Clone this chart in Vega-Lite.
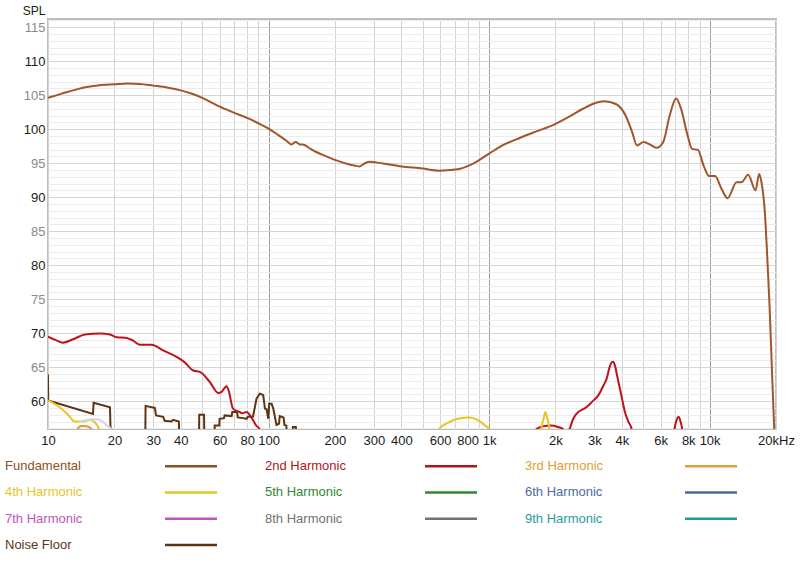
{
  "$schema": "https://vega.github.io/schema/vega-lite/v6.json",
  "padding": {"left": 5, "top": 3, "right": 5, "bottom": 0},
  "spacing": 5,
  "config": {"font": "Liberation Sans"},
  "resolve": {"scale": {"color": "independent"}},
  "datasets": {
    "curves": [
      {"series": "Fundamental", "freq": 10, "spl": 104.6},
      {"series": "Fundamental", "freq": 11, "spl": 105.0},
      {"series": "Fundamental", "freq": 12, "spl": 105.4},
      {"series": "Fundamental", "freq": 13.5, "spl": 105.85},
      {"series": "Fundamental", "freq": 15, "spl": 106.2},
      {"series": "Fundamental", "freq": 17.5, "spl": 106.5},
      {"series": "Fundamental", "freq": 20, "spl": 106.6},
      {"series": "Fundamental", "freq": 23, "spl": 106.7},
      {"series": "Fundamental", "freq": 26, "spl": 106.65},
      {"series": "Fundamental", "freq": 30, "spl": 106.4},
      {"series": "Fundamental", "freq": 35, "spl": 106.1},
      {"series": "Fundamental", "freq": 40, "spl": 105.7},
      {"series": "Fundamental", "freq": 45, "spl": 105.2},
      {"series": "Fundamental", "freq": 50, "spl": 104.6},
      {"series": "Fundamental", "freq": 60, "spl": 103.3},
      {"series": "Fundamental", "freq": 70, "spl": 102.4},
      {"series": "Fundamental", "freq": 82, "spl": 101.5},
      {"series": "Fundamental", "freq": 92, "spl": 100.7},
      {"series": "Fundamental", "freq": 101, "spl": 100.0},
      {"series": "Fundamental", "freq": 110, "spl": 99.2},
      {"series": "Fundamental", "freq": 120.6, "spl": 98.3},
      {"series": "Fundamental", "freq": 127, "spl": 97.75},
      {"series": "Fundamental", "freq": 132.6, "spl": 98.1},
      {"series": "Fundamental", "freq": 139, "spl": 97.75},
      {"series": "Fundamental", "freq": 144.6, "spl": 97.7},
      {"series": "Fundamental", "freq": 155, "spl": 97.1},
      {"series": "Fundamental", "freq": 165.4, "spl": 96.6},
      {"series": "Fundamental", "freq": 183, "spl": 96.0},
      {"series": "Fundamental", "freq": 203, "spl": 95.4},
      {"series": "Fundamental", "freq": 233, "spl": 94.8},
      {"series": "Fundamental", "freq": 250, "spl": 94.6},
      {"series": "Fundamental", "freq": 259, "spl": 94.5},
      {"series": "Fundamental", "freq": 268, "spl": 94.8},
      {"series": "Fundamental", "freq": 278, "spl": 95.1},
      {"series": "Fundamental", "freq": 287, "spl": 95.2},
      {"series": "Fundamental", "freq": 330, "spl": 94.95},
      {"series": "Fundamental", "freq": 393, "spl": 94.55},
      {"series": "Fundamental", "freq": 500, "spl": 94.2},
      {"series": "Fundamental", "freq": 593, "spl": 93.9},
      {"series": "Fundamental", "freq": 706, "spl": 94.05},
      {"series": "Fundamental", "freq": 842, "spl": 94.9},
      {"series": "Fundamental", "freq": 1000, "spl": 96.4},
      {"series": "Fundamental", "freq": 1150, "spl": 97.6},
      {"series": "Fundamental", "freq": 1376, "spl": 98.7},
      {"series": "Fundamental", "freq": 1650, "spl": 99.7},
      {"series": "Fundamental", "freq": 1948, "spl": 100.6},
      {"series": "Fundamental", "freq": 2300, "spl": 101.8},
      {"series": "Fundamental", "freq": 2665, "spl": 103.0},
      {"series": "Fundamental", "freq": 2950, "spl": 103.7},
      {"series": "Fundamental", "freq": 3330, "spl": 104.1},
      {"series": "Fundamental", "freq": 3756, "spl": 103.7},
      {"series": "Fundamental", "freq": 4160, "spl": 102.0},
      {"series": "Fundamental", "freq": 4450, "spl": 99.6},
      {"series": "Fundamental", "freq": 4685, "spl": 97.6},
      {"series": "Fundamental", "freq": 5020, "spl": 98.1},
      {"series": "Fundamental", "freq": 5400, "spl": 97.7},
      {"series": "Fundamental", "freq": 5750, "spl": 97.25},
      {"series": "Fundamental", "freq": 6160, "spl": 98.1},
      {"series": "Fundamental", "freq": 6590, "spl": 102.0},
      {"series": "Fundamental", "freq": 7050, "spl": 104.5},
      {"series": "Fundamental", "freq": 7420, "spl": 103.0},
      {"series": "Fundamental", "freq": 7940, "spl": 99.1},
      {"series": "Fundamental", "freq": 8320, "spl": 97.1},
      {"series": "Fundamental", "freq": 8850, "spl": 96.95},
      {"series": "Fundamental", "freq": 9390, "spl": 94.65},
      {"series": "Fundamental", "freq": 9950, "spl": 93.1},
      {"series": "Fundamental", "freq": 10590, "spl": 93.1},
      {"series": "Fundamental", "freq": 11330, "spl": 91.2},
      {"series": "Fundamental", "freq": 12070, "spl": 89.85},
      {"series": "Fundamental", "freq": 13250, "spl": 92.2},
      {"series": "Fundamental", "freq": 13950, "spl": 92.2},
      {"series": "Fundamental", "freq": 14950, "spl": 93.3},
      {"series": "Fundamental", "freq": 16150, "spl": 91.0},
      {"series": "Fundamental", "freq": 16780, "spl": 93.4},
      {"series": "Fundamental", "freq": 17180, "spl": 92.2},
      {"series": "Fundamental", "freq": 17800, "spl": 87.8},
      {"series": "Fundamental", "freq": 18300, "spl": 80.5},
      {"series": "Fundamental", "freq": 18700, "spl": 74},
      {"series": "Fundamental", "freq": 19200, "spl": 64},
      {"series": "Fundamental", "freq": 19600, "spl": 56.5},
      {"series": "Fundamental", "freq": 20000, "spl": 50},

      {"series": "2nd Harmonic", "freq": 10, "spl": 69.5},
      {"series": "2nd Harmonic", "freq": 10.8, "spl": 69.0},
      {"series": "2nd Harmonic", "freq": 11.7, "spl": 68.6},
      {"series": "2nd Harmonic", "freq": 13, "spl": 69.1},
      {"series": "2nd Harmonic", "freq": 14.7, "spl": 69.8},
      {"series": "2nd Harmonic", "freq": 17.2, "spl": 69.95},
      {"series": "2nd Harmonic", "freq": 19.1, "spl": 69.8},
      {"series": "2nd Harmonic", "freq": 20.5, "spl": 69.4},
      {"series": "2nd Harmonic", "freq": 22.7, "spl": 69.3},
      {"series": "2nd Harmonic", "freq": 24.3, "spl": 68.9},
      {"series": "2nd Harmonic", "freq": 26.1, "spl": 68.3},
      {"series": "2nd Harmonic", "freq": 29.5, "spl": 68.3},
      {"series": "2nd Harmonic", "freq": 33.3, "spl": 67.45},
      {"series": "2nd Harmonic", "freq": 38.3, "spl": 66.5},
      {"series": "2nd Harmonic", "freq": 41.7, "spl": 65.7},
      {"series": "2nd Harmonic", "freq": 45.5, "spl": 64.5},
      {"series": "2nd Harmonic", "freq": 48.8, "spl": 64.3},
      {"series": "2nd Harmonic", "freq": 54.2, "spl": 62.8},
      {"series": "2nd Harmonic", "freq": 59.1, "spl": 61.2},
      {"series": "2nd Harmonic", "freq": 61, "spl": 61.3},
      {"series": "2nd Harmonic", "freq": 64.5, "spl": 62.2},
      {"series": "2nd Harmonic", "freq": 66, "spl": 61.5},
      {"series": "2nd Harmonic", "freq": 69, "spl": 58.9},
      {"series": "2nd Harmonic", "freq": 74, "spl": 58.4},
      {"series": "2nd Harmonic", "freq": 76, "spl": 58.2},
      {"series": "2nd Harmonic", "freq": 79.5, "spl": 58.4},
      {"series": "2nd Harmonic", "freq": 84, "spl": 57.5},
      {"series": "2nd Harmonic", "freq": 88, "spl": 56.4},
      {"series": "2nd Harmonic", "freq": 91, "spl": 55.9},
      {"series": "2nd Harmonic", "freq": 95, "spl": 53},
      {"series": "2nd Harmonic", "freq": 1550, "spl": 53},
      {"series": "2nd Harmonic", "freq": 1640, "spl": 55.9},
      {"series": "2nd Harmonic", "freq": 1770, "spl": 56.3},
      {"series": "2nd Harmonic", "freq": 1900, "spl": 56.4},
      {"series": "2nd Harmonic", "freq": 2050, "spl": 56.2},
      {"series": "2nd Harmonic", "freq": 2161, "spl": 55.9},
      {"series": "2nd Harmonic", "freq": 2230, "spl": 55.2},
      {"series": "2nd Harmonic", "freq": 2318, "spl": 55.9},
      {"series": "2nd Harmonic", "freq": 2400, "spl": 57.3},
      {"series": "2nd Harmonic", "freq": 2485, "spl": 58.1},
      {"series": "2nd Harmonic", "freq": 2762, "spl": 59.1},
      {"series": "2nd Harmonic", "freq": 2950, "spl": 60.0},
      {"series": "2nd Harmonic", "freq": 3123, "spl": 60.8},
      {"series": "2nd Harmonic", "freq": 3300, "spl": 62.3},
      {"series": "2nd Harmonic", "freq": 3413, "spl": 63.3},
      {"series": "2nd Harmonic", "freq": 3520, "spl": 65.0},
      {"series": "2nd Harmonic", "freq": 3594, "spl": 65.7},
      {"series": "2nd Harmonic", "freq": 3650, "spl": 65.8},
      {"series": "2nd Harmonic", "freq": 3720, "spl": 65.25},
      {"series": "2nd Harmonic", "freq": 3820, "spl": 63.5},
      {"series": "2nd Harmonic", "freq": 3922, "spl": 61.8},
      {"series": "2nd Harmonic", "freq": 4030, "spl": 60.0},
      {"series": "2nd Harmonic", "freq": 4130, "spl": 58.4},
      {"series": "2nd Harmonic", "freq": 4280, "spl": 57.0},
      {"series": "2nd Harmonic", "freq": 4430, "spl": 55.9},
      {"series": "2nd Harmonic", "freq": 4550, "spl": 53},
      {"series": "2nd Harmonic", "freq": 6800, "spl": 53},
      {"series": "2nd Harmonic", "freq": 6935, "spl": 55.9},
      {"series": "2nd Harmonic", "freq": 7100, "spl": 57.3},
      {"series": "2nd Harmonic", "freq": 7240, "spl": 57.7},
      {"series": "2nd Harmonic", "freq": 7380, "spl": 57.0},
      {"series": "2nd Harmonic", "freq": 7510, "spl": 55.9},
      {"series": "2nd Harmonic", "freq": 7650, "spl": 53},
      {"series": "2nd Harmonic", "freq": 20000, "spl": 53},

      {"series": "3rd Harmonic", "freq": 12.9, "spl": 54},
      {"series": "3rd Harmonic", "freq": 13.5, "spl": 55.7},
      {"series": "3rd Harmonic", "freq": 14.2, "spl": 56.35},
      {"series": "3rd Harmonic", "freq": 15.0, "spl": 56.3},
      {"series": "3rd Harmonic", "freq": 15.5, "spl": 56.1},
      {"series": "3rd Harmonic", "freq": 16.0, "spl": 55.5},
      {"series": "3rd Harmonic", "freq": 16.4, "spl": 54},

      {"series": "4th Harmonic", "freq": 10, "spl": 60.1},
      {"series": "4th Harmonic", "freq": 11.3, "spl": 59.1},
      {"series": "4th Harmonic", "freq": 12.4, "spl": 57.9},
      {"series": "4th Harmonic", "freq": 13.2, "spl": 57.0},
      {"series": "4th Harmonic", "freq": 14.5, "spl": 57.0},
      {"series": "4th Harmonic", "freq": 15.5, "spl": 57.25},
      {"series": "4th Harmonic", "freq": 16.3, "spl": 56.9},
      {"series": "4th Harmonic", "freq": 17.2, "spl": 55.5},
      {"series": "4th Harmonic", "freq": 18, "spl": 53},
      {"series": "4th Harmonic", "freq": 560, "spl": 53},
      {"series": "4th Harmonic", "freq": 594, "spl": 55.9},
      {"series": "4th Harmonic", "freq": 650, "spl": 56.8},
      {"series": "4th Harmonic", "freq": 720, "spl": 57.4},
      {"series": "4th Harmonic", "freq": 817, "spl": 57.6},
      {"series": "4th Harmonic", "freq": 900, "spl": 57.1},
      {"series": "4th Harmonic", "freq": 960, "spl": 56.4},
      {"series": "4th Harmonic", "freq": 1000, "spl": 55.9},
      {"series": "4th Harmonic", "freq": 1040, "spl": 53},
      {"series": "4th Harmonic", "freq": 1700, "spl": 53},
      {"series": "4th Harmonic", "freq": 1726, "spl": 55.9},
      {"series": "4th Harmonic", "freq": 1770, "spl": 57.5},
      {"series": "4th Harmonic", "freq": 1800, "spl": 58.4},
      {"series": "4th Harmonic", "freq": 1835, "spl": 57.5},
      {"series": "4th Harmonic", "freq": 1874, "spl": 55.9},
      {"series": "4th Harmonic", "freq": 1900, "spl": 53},

      {"series": "8th Harmonic", "freq": 13.8, "spl": 56.9},
      {"series": "8th Harmonic", "freq": 14.5, "spl": 57.1},
      {"series": "8th Harmonic", "freq": 15.5, "spl": 57.3},
      {"series": "8th Harmonic", "freq": 16.6, "spl": 57.35},
      {"series": "8th Harmonic", "freq": 17.5, "spl": 57.1},
      {"series": "8th Harmonic", "freq": 18.5, "spl": 56.4},
      {"series": "8th Harmonic", "freq": 19.4, "spl": 55.9},
      {"series": "8th Harmonic", "freq": 20, "spl": 54},

      {"series": "Noise Floor", "freq": 10, "spl": 63.9},
      {"series": "Noise Floor", "freq": 10.02, "spl": 60.1},
      {"series": "Noise Floor", "freq": 16.0, "spl": 58.1},
      {"series": "Noise Floor", "freq": 16.1, "spl": 59.75},
      {"series": "Noise Floor", "freq": 19.1, "spl": 59.1},
      {"series": "Noise Floor", "freq": 19.2, "spl": 56.2},
      {"series": "Noise Floor", "freq": 20.6, "spl": 54},
      {"series": "Noise Floor", "freq": 27.6, "spl": 54},
      {"series": "Noise Floor", "freq": 27.7, "spl": 59.3},
      {"series": "Noise Floor", "freq": 30.5, "spl": 59.0},
      {"series": "Noise Floor", "freq": 30.9, "spl": 57.9},
      {"series": "Noise Floor", "freq": 33.3, "spl": 57.7},
      {"series": "Noise Floor", "freq": 33.8, "spl": 57.1},
      {"series": "Noise Floor", "freq": 36.3, "spl": 57.0},
      {"series": "Noise Floor", "freq": 36.9, "spl": 57.25},
      {"series": "Noise Floor", "freq": 39.2, "spl": 57.0},
      {"series": "Noise Floor", "freq": 39.5, "spl": 54},
      {"series": "Noise Floor", "freq": 48.4, "spl": 54},
      {"series": "Noise Floor", "freq": 48.5, "spl": 58.0},
      {"series": "Noise Floor", "freq": 51.0, "spl": 58.0},
      {"series": "Noise Floor", "freq": 51.2, "spl": 54},
      {"series": "Noise Floor", "freq": 56.9, "spl": 54},
      {"series": "Noise Floor", "freq": 57.0, "spl": 56.4},
      {"series": "Noise Floor", "freq": 59.8, "spl": 56.4},
      {"series": "Noise Floor", "freq": 60.0, "spl": 57.4},
      {"series": "Noise Floor", "freq": 62.8, "spl": 57.5},
      {"series": "Noise Floor", "freq": 63.2, "spl": 57.9},
      {"series": "Noise Floor", "freq": 68.0, "spl": 57.8},
      {"series": "Noise Floor", "freq": 68.5, "spl": 58.4},
      {"series": "Noise Floor", "freq": 72.0, "spl": 58.4},
      {"series": "Noise Floor", "freq": 72.5, "spl": 57.6},
      {"series": "Noise Floor", "freq": 76.6, "spl": 57.5},
      {"series": "Noise Floor", "freq": 79.5, "spl": 57.4},
      {"series": "Noise Floor", "freq": 80.5, "spl": 57.7},
      {"series": "Noise Floor", "freq": 85.0, "spl": 57.7},
      {"series": "Noise Floor", "freq": 88.2, "spl": 60.35},
      {"series": "Noise Floor", "freq": 91.3, "spl": 61.1},
      {"series": "Noise Floor", "freq": 94.6, "spl": 60.9},
      {"series": "Noise Floor", "freq": 96.3, "spl": 58.9},
      {"series": "Noise Floor", "freq": 98.0, "spl": 58.8},
      {"series": "Noise Floor", "freq": 99.7, "spl": 57.4},
      {"series": "Noise Floor", "freq": 100.7, "spl": 59.6},
      {"series": "Noise Floor", "freq": 103.3, "spl": 59.6},
      {"series": "Noise Floor", "freq": 105.1, "spl": 58.9},
      {"series": "Noise Floor", "freq": 106.9, "spl": 57.65},
      {"series": "Noise Floor", "freq": 108.7, "spl": 56.5},
      {"series": "Noise Floor", "freq": 111.6, "spl": 56.7},
      {"series": "Noise Floor", "freq": 112.4, "spl": 57.8},
      {"series": "Noise Floor", "freq": 117, "spl": 57.6},
      {"series": "Noise Floor", "freq": 118.1, "spl": 56.5},
      {"series": "Noise Floor", "freq": 120.5, "spl": 56.4},
      {"series": "Noise Floor", "freq": 121, "spl": 54},
      {"series": "Noise Floor", "freq": 128, "spl": 54},
      {"series": "Noise Floor", "freq": 129, "spl": 56.2},
      {"series": "Noise Floor", "freq": 133, "spl": 56.2},
      {"series": "Noise Floor", "freq": 134, "spl": 54}
    ],
    "legendItems": [
      {"series": "Fundamental", "col": 0, "row": 0},
      {"series": "2nd Harmonic", "col": 1, "row": 0},
      {"series": "3rd Harmonic", "col": 2, "row": 0},
      {"series": "4th Harmonic", "col": 0, "row": 1},
      {"series": "5th Harmonic", "col": 1, "row": 1},
      {"series": "6th Harmonic", "col": 2, "row": 1},
      {"series": "7th Harmonic", "col": 0, "row": 2},
      {"series": "8th Harmonic", "col": 1, "row": 2},
      {"series": "9th Harmonic", "col": 2, "row": 2},
      {"series": "Noise Floor", "col": 0, "row": 3}
    ]
  },
  "vconcat": [
    {
      "width": 728,
      "height": 410,
      "view": {"stroke": "#bdbdbd", "strokeWidth": 2},
      "data": {"name": "curves"},
      "encoding": {
        "x": {
          "field": "freq",
          "type": "quantitative",
          "scale": {"type": "log", "domain": [10, 20000], "nice": false},
          "axis": {
            "title": null,
            "values": [10, 20, 30, 40, 50, 60, 70, 80, 90, 100, 200, 300, 400, 500, 600, 700, 800, 900, 1000, 2000, 3000, 4000, 5000, 6000, 7000, 8000, 9000, 10000, 20000],
            "labelExpr": "indexof([10,20,30,40,60,80,100,200,300,400,600,800,1000,2000,3000,4000,6000,8000,10000,20000], datum.value) < 0 ? '' : (datum.value == 20000 ? '20kHz' : (datum.value >= 1000 ? (datum.value / 1000) + 'k' : '' + datum.value))",
            "gridColor": {"condition": {"test": "datum.value == 100 || datum.value == 1000 || datum.value == 10000", "value": "#9c9c9c"}, "value": "#d3d3d3"},
            "ticks": false,
            "domain": false,
            "labelFontSize": 13,
            "labelColor": "#1a1a1a",
            "labelPadding": 5,
            "labelOverlap": false,
            "labelFlush": false,
            "labelBound": false
          }
        },
        "y": {
          "field": "spl",
          "type": "quantitative",
          "scale": {"domain": [55.9, 116.2], "nice": false, "zero": false},
          "axis": {
            "title": "SPL",
            "titleAngle": 0,
            "titleAlign": "right",
            "titleBaseline": "alphabetic",
            "titleX": -3,
            "titleY": -5,
            "titleFontSize": 12,
            "titleFontWeight": "normal",
            "titleColor": "#1a1a1a",
            "values": [56, 57, 58, 59, 60, 61, 62, 63, 64, 65, 66, 67, 68, 69, 70, 71, 72, 73, 74, 75, 76, 77, 78, 79, 80, 81, 82, 83, 84, 85, 86, 87, 88, 89, 90, 91, 92, 93, 94, 95, 96, 97, 98, 99, 100, 101, 102, 103, 104, 105, 106, 107, 108, 109, 110, 111, 112, 113, 114, 115, 116],
            "labelExpr": "datum.value % 5 == 0 && datum.value >= 60 && datum.value <= 115 ? datum.label : ''",
            "labelColor": {"condition": {"test": "datum.value % 10 == 0", "value": "#1a1a1a"}, "value": "#8a8a8a"},
            "gridColor": {"condition": {"test": "datum.value % 5 == 0", "value": "#d6d6d6"}, "value": "#ececec"},
            "labelFontSize": 13,
            "labelPadding": 3,
            "ticks": false,
            "domain": false,
            "labelOverlap": false,
            "labelBound": false,
            "labelFlush": false
          }
        },
        "color": {
          "field": "series",
          "type": "nominal",
          "scale": {
            "domain": ["Fundamental", "2nd Harmonic", "3rd Harmonic", "4th Harmonic", "5th Harmonic", "6th Harmonic", "7th Harmonic", "8th Harmonic", "9th Harmonic", "Noise Floor"],
            "range": ["#a0562a", "#c0121c", "#e39a2a", "#e8c520", "#2f8a2f", "#4d6aa0", "#b94fc4", "#d6d6d6", "#1f9a9a", "#5e3513"]
          },
          "legend": null
        }
      },
      "layer": [
        {
          "transform": [{"filter": "datum.series == 'Noise Floor'"}],
          "mark": {"type": "line", "strokeWidth": 2, "clip": true, "interpolate": "linear"}
        },
        {
          "transform": [{"filter": "datum.series != 'Noise Floor'"}],
          "mark": {"type": "line", "strokeWidth": 2, "clip": true, "interpolate": "monotone"}
        }
      ]
    },
    {
      "width": 728,
      "height": 105,
      "view": {"stroke": null},
      "data": {"name": "legendItems"},
      "encoding": {
        "x": {"field": "col", "type": "quantitative", "scale": {"domain": [0, 2.8], "nice": false, "zero": false}, "axis": null},
        "y": {"field": "row", "type": "quantitative", "scale": {"domain": [-0.5, 3.5], "reverse": true, "nice": false, "zero": false}, "axis": null},
        "color": {
          "field": "series",
          "type": "nominal",
          "scale": {
            "domain": ["Fundamental", "2nd Harmonic", "3rd Harmonic", "4th Harmonic", "5th Harmonic", "6th Harmonic", "7th Harmonic", "8th Harmonic", "9th Harmonic", "Noise Floor"],
            "range": ["#8a5028", "#b3141c", "#e0a033", "#e6c52a", "#2f8a2f", "#4d6a9e", "#c052c0", "#727272", "#1f9c9c", "#5a3518"]
          },
          "legend": null
        }
      },
      "layer": [
        {
          "mark": {"type": "text", "align": "left", "baseline": "middle", "dx": -43, "fontSize": 13},
          "encoding": {"text": {"field": "series"}}
        },
        {
          "mark": {"type": "rule", "strokeWidth": 2.5, "xOffset": 117, "x2Offset": 169},
          "encoding": {"x2": {"field": "col"}}
        }
      ]
    }
  ]
}
